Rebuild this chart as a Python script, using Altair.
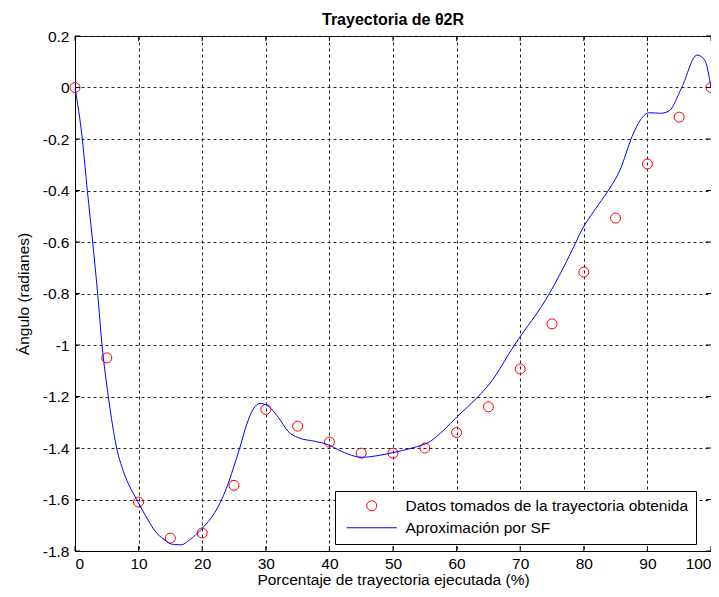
import altair as alt
import pandas as pd

FONT = "Liberation Sans"
DATOS = "Datos tomados de la trayectoria obtenida"
APROX = "Aproximación por SF"

# Sampled data points (red circles)
datos_x = [0, 5, 10, 15, 20, 25, 30, 35, 40, 45, 50, 55, 60, 65, 70, 75, 80, 85, 90, 95, 100]
datos_y = [0, -1.05, -1.61, -1.75, -1.73, -1.545, -1.25, -1.315, -1.377, -1.42, -1.42,
           -1.40, -1.34, -1.24, -1.093, -0.918, -0.717, -0.507, -0.297, -0.115, 0]

# Fourier-series approximation (blue line)
sf_x = [0, 1.15, 1.94, 2.78, 3.56, 4.25, 5.24, 6.55, 7.6, 9.7, 11.5, 12.5, 14, 15.5, 16.7,
        18, 20, 22, 23.8, 24.9, 25.9, 27, 28, 29.1, 30.1, 32, 33.5, 35.1, 37.7, 39.8, 41.9,
        44, 45.1, 47.5, 50, 53, 55.8, 58, 60.1, 63.4, 65.2, 69.1, 74.6, 78.2, 79.7, 81.7,
        83.9, 85.7, 87.6, 88.9, 90.3, 92.1, 93.4, 95.4, 97.8, 99.0, 100]
sf_y = [0, -0.2, -0.4, -0.6, -0.8, -1.0, -1.2, -1.4, -1.49, -1.6, -1.68, -1.72, -1.755, -1.775,
        -1.776, -1.757, -1.712, -1.65, -1.557, -1.478, -1.40, -1.308, -1.25, -1.227, -1.233,
        -1.282, -1.335, -1.36, -1.374, -1.387, -1.413, -1.432, -1.436, -1.43, -1.418, -1.40,
        -1.375, -1.33, -1.278, -1.2, -1.15, -1.0, -0.8, -0.63, -0.553, -0.476, -0.398, -0.32,
        -0.19, -0.126, -0.098, -0.1, -0.091, 0, 0.126, 0.107, 0]

x_ticks = [0, 10, 20, 30, 40, 50, 60, 70, 80, 90, 100]
y_ticks = [0.2, 0, -0.2, -0.4, -0.6, -0.8, -1.0, -1.2, -1.4, -1.6, -1.8]

W, H = 636, 515
FS = 15.5

df_datos = pd.DataFrame({"x": datos_x, "y": datos_y, "serie": DATOS})
df_sf = pd.DataFrame({"x": sf_x, "y": sf_y, "serie": APROX})
df_xt = pd.DataFrame({"x": x_ticks})
df_yt = pd.DataFrame({"y": y_ticks})

xscale = alt.Scale(domain=[0, 100], nice=False, zero=False)
yscale = alt.Scale(domain=[-1.8, 0.2], nice=False, zero=False)
cscale = alt.Scale(domain=[DATOS, APROX], range=["#FF0000", "#0000FF"])
sscale = alt.Scale(domain=[DATOS, APROX], range=["circle", "M-5,0H5"])


def make_legend():
    return alt.Legend(
        title=None, orient="none", legendX=260, legendY=455,
        strokeColor="black", fillColor="white", padding=7, cornerRadius=0,
        labelFont=FONT, labelFontSize=FS, labelColor="black", labelOffset=26,
        labelLimit=0, symbolSize=100, symbolOffset=22, symbolStrokeWidth=1,
        symbolFillColor="transparent", symbolOpacity=1, rowPadding=5,
    )


def xaxis():
    return alt.Axis(values=x_ticks, title="Porcentaje de trayectoria ejecutada (%)",
                    ticks=False, labelPadding=5, titleY=33, titleBaseline="alphabetic",
                    labelExpr="toString(round(datum.value))")


def yaxis():
    return alt.Axis(values=y_ticks, title="Ángulo (radianes)", ticks=False, labelPadding=6,
                    titleX=-47, titleBaseline="alphabetic",
                    labelExpr="toString(round(datum.value*10)/10)")


points = alt.Chart(df_datos).mark_point(
    filled=False, size=100, strokeWidth=1, opacity=1
).encode(
    x=alt.X("x:Q", scale=xscale, axis=xaxis()),
    y=alt.Y("y:Q", scale=yscale, axis=yaxis()),
    color=alt.Color("serie:N", scale=cscale, legend=make_legend()),
    shape=alt.Shape("serie:N", scale=sscale, legend=make_legend()),
)

line = alt.Chart(df_sf).mark_line(strokeWidth=1, interpolate="monotone").encode(
    x=alt.X("x:Q", scale=xscale, axis=xaxis()),
    y=alt.Y("y:Q", scale=yscale, axis=yaxis()),
    color=alt.Color("serie:N", scale=cscale, legend=make_legend()),
)

tk = dict(color="black", strokeWidth=1)
xt_bottom = alt.Chart(df_xt).mark_rule(**tk).encode(
    x=alt.X("x:Q", scale=xscale, axis=xaxis()), y=alt.value(H - 5), y2=alt.value(H))
xt_top = alt.Chart(df_xt).mark_rule(**tk).encode(
    x=alt.X("x:Q", scale=xscale, axis=xaxis()), y=alt.value(0), y2=alt.value(5))
yt_left = alt.Chart(df_yt).mark_rule(**tk).encode(
    y=alt.Y("y:Q", scale=yscale, axis=yaxis()), x=alt.value(0), x2=alt.value(5))
yt_right = alt.Chart(df_yt).mark_rule(**tk).encode(
    y=alt.Y("y:Q", scale=yscale, axis=yaxis()), x=alt.value(W - 5), x2=alt.value(W))

chart = alt.layer(points, line, xt_bottom, xt_top, yt_left, yt_right).properties(
    width=W, height=H,
    title=alt.TitleParams("Trayectoria de θ2R", font=FONT, fontSize=16, fontWeight="bold",
                          color="black", offset=1, frame="group", anchor="middle"),
    autosize=alt.AutoSizeParams(type="none"),
    padding={"left": 67, "top": 28, "right": 0, "bottom": 38},
    background="white",
).configure_view(
    stroke="black", strokeWidth=1
).configure_axis(
    grid=True, gridColor="#222222", gridDash=[3, 3], gridWidth=1, gridOpacity=1,
    domain=True, domainColor="black", domainWidth=1,
    labelFont=FONT, labelFontSize=FS, labelColor="black",
    titleFont=FONT, titleFontSize=FS, titleColor="black", titleFontWeight="normal",
)

chart.save("out.html", embed_options={"renderer": "svg", "actions": False})
